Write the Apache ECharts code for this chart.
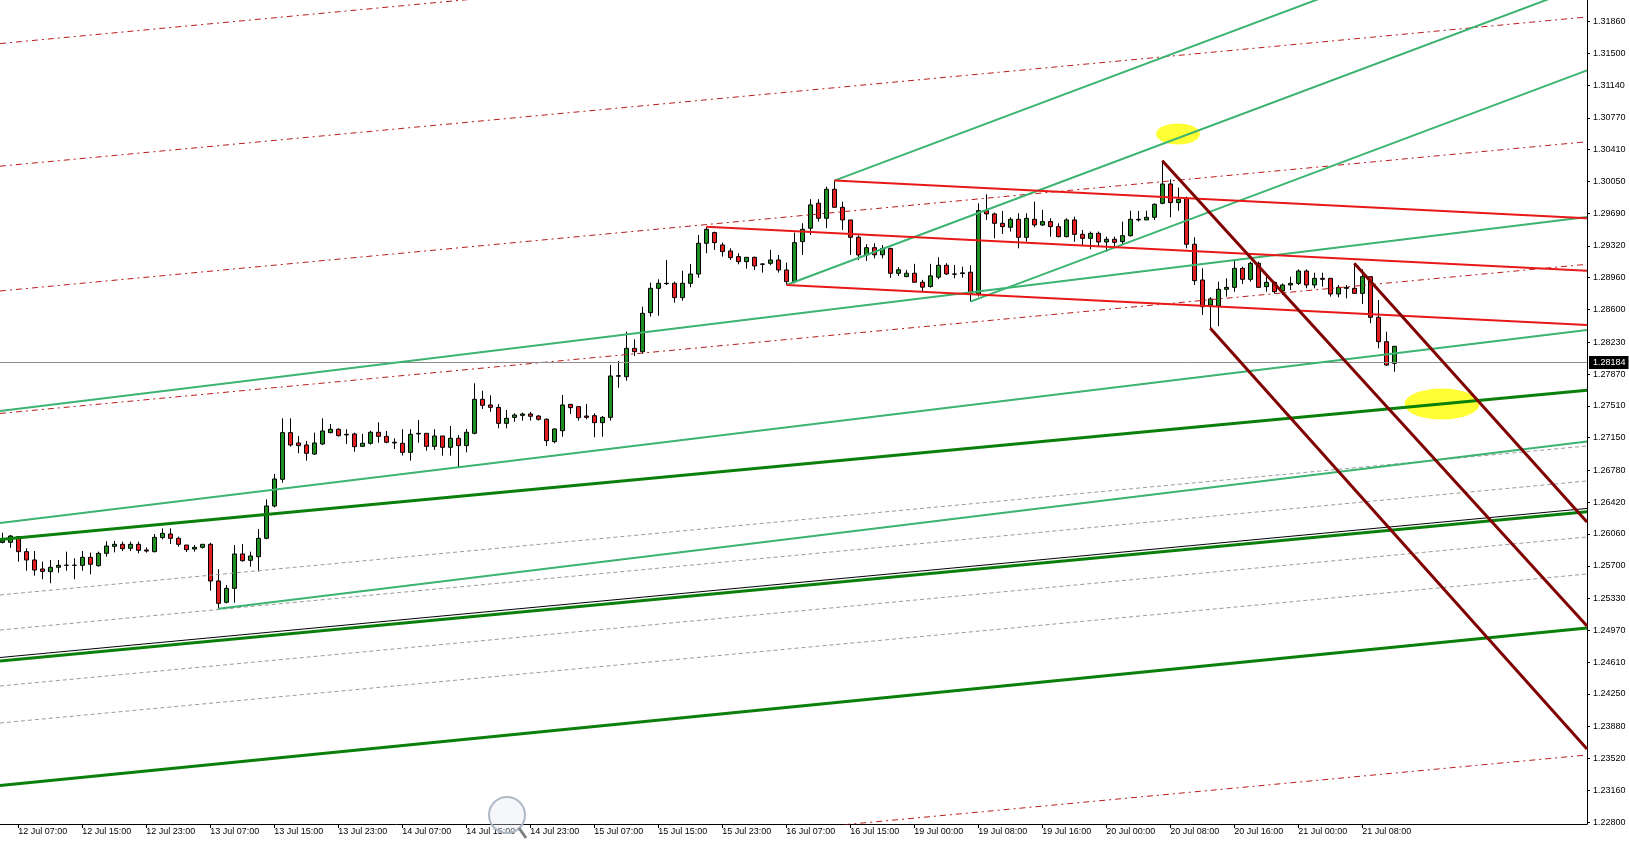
<!DOCTYPE html>
<html><head><meta charset="utf-8">
<script src="https://cdn.jsdelivr.net/npm/echarts@6/dist/echarts.min.js"></script>
<style>html,body{margin:0;padding:0;background:#fff;}#c{width:1629px;height:842px;}</style>
</head><body><div id="c"></div>
<script>
// ---------- DATA ----------
const timeLabels = ["12 Jul 07:00","12 Jul 15:00","12 Jul 23:00","13 Jul 07:00","13 Jul 15:00","13 Jul 23:00","14 Jul 07:00","14 Jul 15:00","14 Jul 23:00","15 Jul 07:00","15 Jul 15:00","15 Jul 23:00","16 Jul 07:00","16 Jul 15:00","19 Jul 00:00","19 Jul 08:00","19 Jul 16:00","20 Jul 00:00","20 Jul 08:00","20 Jul 16:00","21 Jul 00:00","21 Jul 08:00"];
const timeLabelBars = [0,8,16,24,32,40,48,56,64,72,80,88,96,104,112,120,128,136,144,152,160,168];
const priceTicks = ["1.22800","1.23160","1.23520","1.23880","1.24250","1.24610","1.24970","1.25330","1.25700","1.26060","1.26420","1.26780","1.27150","1.27510","1.27870","1.28230","1.28600","1.28960","1.29320","1.29690","1.30050","1.30410","1.30770","1.31140","1.31500","1.31860"];
const firstBar = -2;
const opens = [
1.25965,1.25966,1.26030,1.25860,1.25766,1.25664,1.25634,1.25683,1.25705,1.25707,
1.25705,1.25796,1.25701,1.25841,1.25920,1.25943,1.25898,1.25943,1.25879,1.25860,
1.26019,1.26060,1.26011,1.25935,1.25890,1.25909,1.25943,1.25528,1.25287,1.25445,
1.25834,1.25762,1.25803,1.26011,1.26377,1.26679,1.27207,1.27090,1.27067,1.26965,
1.27079,1.27207,1.27245,1.27188,1.27192,1.27052,1.27086,1.27211,1.27165,1.27098,
1.27086,1.26984,1.27192,1.27199,1.27052,1.27169,1.27041,1.27143,1.27060,1.27199,
1.27584,1.27520,1.27493,1.27312,1.27380,1.27403,1.27418,1.27395,1.27358,1.27105,
1.27229,1.27527,1.27501,1.27395,1.27399,1.27320,1.27380,1.27845,1.27840,1.28161,
1.28123,1.28565,1.28840,1.28893,1.28897,1.28735,1.28897,1.29002,1.29350,1.29471,
1.29331,1.29263,1.29199,1.29142,1.29191,1.29116,1.29123,1.29161,1.29048,1.28916,
1.29369,1.29520,1.29803,1.29633,1.29961,1.29757,1.29614,1.29418,1.29218,1.29300,
1.29220,1.29290,1.29010,1.28973,1.29011,1.28909,1.28860,1.28966,1.29101,1.29003,
1.29007,1.29022,1.28777,1.29719,1.29682,1.29576,1.29531,1.29621,1.29417,1.29621,
1.29557,1.29595,1.29538,1.29425,1.29614,1.29451,1.29406,1.29463,1.29365,1.29395,
1.29369,1.29436,1.29621,1.29614,1.29644,1.29802,1.30021,1.29810,1.29859,1.29339,
1.28934,1.28650,1.28640,1.28829,1.28851,1.29066,1.28942,1.29123,1.28859,1.28908,
1.28810,1.28878,1.28896,1.29036,1.28878,1.28953,1.28953,1.28776,1.28851,1.28840,
1.28783,1.28972,1.28512,1.28236,1.27991];
const closes = [
1.25985,1.26037,1.25860,1.25766,1.25652,1.25637,1.25683,1.25705,1.25707,1.25705,
1.25796,1.25717,1.25841,1.25924,1.25943,1.25894,1.25943,1.25875,1.25867,1.26022,
1.26067,1.26011,1.25943,1.25883,1.25909,1.25943,1.25528,1.25275,1.25445,1.25834,
1.25758,1.25811,1.26011,1.26377,1.26682,1.27207,1.27067,1.27060,1.26973,1.27090,
1.27226,1.27245,1.27173,1.27181,1.27048,1.27086,1.27211,1.27165,1.27098,1.27090,
1.26984,1.27188,1.27199,1.27052,1.27169,1.27041,1.27143,1.27060,1.27211,1.27584,
1.27516,1.27493,1.27312,1.27369,1.27407,1.27418,1.27392,1.27358,1.27116,1.27248,
1.27520,1.27490,1.27376,1.27380,1.27320,1.27380,1.27848,1.27852,1.28161,1.28123,
1.28557,1.28840,1.28897,1.28897,1.28735,1.28897,1.29002,1.29350,1.29508,1.29357,
1.29256,1.29188,1.29142,1.29191,1.29093,1.29112,1.29161,1.29048,1.28916,1.29357,
1.29508,1.29784,1.29633,1.29961,1.29757,1.29614,1.29418,1.29218,1.29300,1.29220,
1.29290,1.29010,1.29050,1.29011,1.28909,1.28853,1.28981,1.29101,1.29003,1.29000,
1.29015,1.28785,1.29719,1.29682,1.29576,1.29538,1.29621,1.29417,1.29632,1.29557,
1.29595,1.29538,1.29425,1.29614,1.29451,1.29406,1.29463,1.29365,1.29395,1.29361,
1.29436,1.29621,1.29614,1.29644,1.29791,1.30021,1.29810,1.29848,1.29339,1.28927,
1.28632,1.28720,1.28829,1.28851,1.29066,1.28942,1.29123,1.28851,1.28908,1.28802,
1.28878,1.28896,1.29036,1.28878,1.28953,1.28942,1.28776,1.28851,1.28840,1.28783,
1.28972,1.28512,1.28236,1.27972,1.28184];
const lows = [
1.25954,1.25905,1.25747,1.25645,1.25588,1.25547,1.25502,1.25622,1.25645,1.25547,
1.25645,1.25604,1.25690,1.25803,1.25852,1.25867,1.25867,1.25841,1.25849,1.25852,
1.26000,1.25947,1.25917,1.25856,1.25860,1.25894,1.25419,1.25215,1.25275,1.25283,
1.25747,1.25690,1.25634,1.26000,1.26360,1.26641,1.27048,1.26973,1.26890,1.26954,
1.27067,1.27199,1.27162,1.27079,1.26992,1.27048,1.27071,1.27094,1.27086,1.27022,
1.26947,1.26890,1.27094,1.27003,1.27011,1.26947,1.26947,1.26811,1.26984,1.27188,
1.27475,1.27444,1.27256,1.27256,1.27331,1.27343,1.27343,1.27343,1.27056,1.27086,
1.27161,1.27418,1.27343,1.27358,1.27154,1.27161,1.27343,1.27716,1.27795,1.28074,
1.28097,1.28520,1.28531,1.28878,1.28678,1.28701,1.28852,1.28960,1.29237,1.29274,
1.29199,1.29161,1.29112,1.29063,1.29048,1.29018,1.29101,1.29018,1.28878,1.28897,
1.29218,1.29444,1.29595,1.29520,1.29757,1.29501,1.29218,1.29160,1.29150,1.29180,
1.29180,1.28960,1.28980,1.28966,1.28909,1.28804,1.28849,1.28943,1.28992,1.28954,
1.28962,1.28690,1.28747,1.29614,1.29406,1.29455,1.29482,1.29293,1.29368,1.29531,
1.29546,1.29425,1.29417,1.29417,1.29368,1.29319,1.29282,1.29319,1.29255,1.29319,
1.29342,1.29425,1.29595,1.29614,1.29614,1.29791,1.29644,1.29719,1.29293,1.28878,
1.28538,1.28387,1.28413,1.28746,1.28802,1.28889,1.28915,1.28851,1.28802,1.28783,
1.28764,1.28821,1.28878,1.28840,1.28840,1.28859,1.28746,1.28738,1.28727,1.28783,
1.28663,1.28444,1.28161,1.27961,1.27897];
const highs = [
1.26075,1.26049,1.26035,1.25898,1.25867,1.25747,1.25766,1.25766,1.25860,1.25785,
1.25867,1.25849,1.25860,1.25977,1.25981,1.25973,1.25973,1.25973,1.25909,1.26060,
1.26124,1.26124,1.26030,1.25935,1.25935,1.25945,1.25962,1.25660,1.25483,1.25935,
1.25947,1.25860,1.26117,1.26452,1.26739,1.27369,1.27369,1.27169,1.27113,1.27207,
1.27369,1.27305,1.27256,1.27245,1.27207,1.27192,1.27230,1.27324,1.27226,1.27143,
1.27245,1.27245,1.27350,1.27199,1.27245,1.27169,1.27282,1.27180,1.27248,1.27765,
1.27682,1.27629,1.27531,1.27463,1.27426,1.27433,1.27441,1.27407,1.27369,1.27256,
1.27633,1.27531,1.27501,1.27531,1.27426,1.27395,1.27973,1.28018,1.28350,1.28263,
1.28633,1.28904,1.28942,1.29161,1.28916,1.29040,1.29116,1.29444,1.29538,1.29482,
1.29357,1.29293,1.29237,1.29191,1.29199,1.29123,1.29274,1.29218,1.29131,1.29471,
1.29576,1.29848,1.29848,1.29991,1.30059,1.29821,1.29614,1.29440,1.29340,1.29350,
1.29330,1.29300,1.29080,1.29049,1.29117,1.28936,1.29117,1.29192,1.29124,1.29105,
1.29086,1.29101,1.29802,1.29904,1.29697,1.29716,1.29644,1.29689,1.29689,1.29821,
1.29727,1.29633,1.29576,1.29633,1.29651,1.29501,1.29482,1.29482,1.29425,1.29425,
1.29595,1.29719,1.29716,1.29719,1.29802,1.30285,1.30074,1.29980,1.29878,1.29417,
1.29066,1.28740,1.28915,1.28953,1.29168,1.29085,1.29142,1.29142,1.28972,1.28915,
1.28896,1.28972,1.29055,1.29055,1.29017,1.29017,1.28953,1.28878,1.28878,1.29123,
1.29055,1.28972,1.28708,1.28349,1.28187];
const bidPrice = 1.28184;
// drawn objects: [barFrom, priceFrom, barTo, priceTo]
const redDashLines = [[-2.29,1.31610,196.09,1.33298],[-2.29,1.30222,196.09,1.31911],[-2.29,1.28810,196.09,1.30499],[-2.29,1.27424,196.09,1.29112],[-2.29,1.21873,196.09,1.23559]];
const grayDashLines = [[-2.29,1.25370,196.09,1.27056],[-2.29,1.24973,196.09,1.26660],[-2.29,1.24340,196.09,1.26026],[-2.29,1.23921,196.09,1.25607]];
const thickGreenLines = [[-2.29,1.25998,196.09,1.27686],[-2.29,1.24623,196.09,1.26311],[-2.29,1.23214,196.09,1.24996]];
const blackLines = [[-2.29,1.24662,196.09,1.26349]];
const thinGreenLines = [[-2.29,1.27452,196.09,1.29648],[-2.29,1.26184,196.09,1.28369],[25,1.25215,196.09,1.27107]];
const pitchforkLines = [[102,1.30059,196.09,1.33253],[96,1.28878,196.09,1.32276],[119,1.28690,196.09,1.31307]];
const redChannelLines = [[102,1.30059,196.09,1.29633],[86,1.29538,196.09,1.29039],[96,1.28878,196.09,1.28425]];
const maroonLines = [[143,1.30285,196.09,1.25019],[167,1.29123,196.09,1.26196],[149,1.28387,196.09,1.23627]];
const highlightCenters = [[144.96,1.30587],[177.96,1.27531]];

// ---------- CHART ----------
const X_MIN = -2.29, X_MAX = 196.09, Y_MIN = 1.22778, Y_MAX = 1.32103;
const FONT = 'Liberation Sans';
const chart = echarts.init(document.getElementById('c'), null, {renderer:'canvas'});

function segSeries(list, color, width, type, z) {
  return list.map(s => ({
    type:'line', data:[[s[0],s[1]],[s[2],s[3]]], symbol:'none', silent:true, z:z,
    lineStyle:{color:color, width:width, type:type}, clip:true, animation:false
  }));
}

const candleData = opens.map((o,i) => [firstBar + i, o, closes[i], lows[i], highs[i]]);

const series = [];
series.push({
  type:'line', data:[], symbol:'none', silent:true, z:1,
  markLine:{symbol:'none', silent:true, animation:false,
    data:[{yAxis:bidPrice}],
    lineStyle:{color:'#8E8E8E', width:1, type:'solid'},
    label:{show:true, position:'end', distance:2, formatter: bidPrice.toFixed(5),
      backgroundColor:'#000', color:'#fff', padding:[2,3,2,4], fontSize:9, fontFamily:FONT}}
});
series.push({
  type:'scatter', data:highlightCenters, symbol:'circle', symbolSize:function(v, p){ return p.dataIndex === 0 ? [44,21] : [75,31]; },
  itemStyle:{color:'#FFFF00'}, silent:true, z:1, animation:false
});
series.push({
  type:'candlestick', data:candleData, barWidth:4, z:3, silent:true, animation:false,
  itemStyle:{color:'#1E8E1E', color0:'#E31E1E', borderColor:'#000', borderColor0:'#000', borderColorDoji:'#000', borderWidth:1}
});
series.push(...segSeries(grayDashLines, '#9A9A9A', 1, [4,3], 4));
series.push(...segSeries(redDashLines, '#B81C1C', 1, [6,4,2,4], 4));
series.push(...segSeries(blackLines, '#000000', 1, 'solid', 4));
series.push(...segSeries(thickGreenLines, '#0A800A', 3, 'solid', 5));
series.push(...segSeries(thinGreenLines, '#3CB371', 2, 'solid', 5));
series.push(...segSeries(pitchforkLines, '#3CB371', 2, 'solid', 5));
series.push(...segSeries(redChannelLines, '#E81818', 2, 'solid', 5));
series.push(...segSeries(maroonLines, '#800000', 3, 'solid', 6));

const priceTickValues = priceTicks.map(Number);

chart.setOption({
  animation:false,
  backgroundColor:'#ffffff',
  grid:{left:0, right:42, top:0, bottom:18, containLabel:false},
  xAxis:{type:'value', min:X_MIN, max:X_MAX,
    axisLine:{show:true, onZero:false, lineStyle:{color:'#000', width:1}},
    axisTick:{show:true, customValues:timeLabelBars, length:4, lineStyle:{color:'#000'}},
    axisLabel:{show:true, customValues:timeLabelBars, align:'left', margin:3, fontSize:9, fontFamily:FONT, color:'#000',
      formatter:function(v){ const i = timeLabelBars.indexOf(Math.round(v)); return i >= 0 ? timeLabels[i] : ''; }},
    splitLine:{show:false}},
  yAxis:{type:'value', position:'right', min:Y_MIN, max:Y_MAX, scale:true,
    axisLine:{show:true, onZero:false, lineStyle:{color:'#000', width:1}},
    axisTick:{show:true, customValues:priceTickValues, length:3, lineStyle:{color:'#000'}},
    axisLabel:{show:true, customValues:priceTickValues, margin:6, fontSize:9, fontFamily:FONT, color:'#000',
      formatter:function(v){ return v.toFixed(5); }},
    splitLine:{show:false}},
  series:series,
  graphic:[
    {type:'circle', shape:{cx:507, cy:815, r:18}, style:{fill:'rgba(225,232,242,0.35)', stroke:'#AEB9C6', lineWidth:2}, z:100, silent:true},
    {type:'line', shape:{x1:519, y1:828, x2:526, y2:838}, style:{stroke:'#808080', lineWidth:3}, z:100, silent:true}
  ]
});
</script></body></html>
